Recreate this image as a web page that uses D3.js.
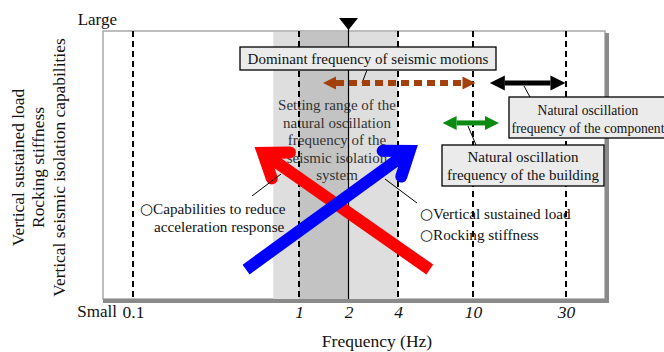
<!DOCTYPE html>
<html>
<head>
<meta charset="utf-8">
<script src="https://cdn.jsdelivr.net/npm/d3@7"></script>
<style>
  body { margin: 0; background: #fff; }
  svg { display: block; }
  text { font-family: "Liberation Serif", "DejaVu Serif", serif; fill: #111; }
</style>
</head>
<body>
<svg width="664" height="352"></svg>
<script>
// frequency ticks (Hz) and their labels
var tickValues = [0.1, 1, 2, 4, 10, 30];
var tickLabels = ["0.1", "1", "2", "4", "10", "30"];
var dashedAt = [0.1, 1, 4, 10, 30];
var solidAt = 2;

// shaded ranges (Hz)
var lightBand = [0.7, 4];
var darkBand = [1, 2];

// double arrows: [from Hz, to Hz, level 0..1]
var dominantRange = [1.4, 10.3, 0.806];
var componentRange = [12.2, 29.8, 0.806];
var buildingRange = [6.9, 13.6, 0.657];

// trend arrows: [Hz, level] tail then head
var redArrow = [[5.9, 0.11], [0.54, 0.567]];
var blueArrow = [[0.48, 0.11], [5.1, 0.575]];

var yAxisLines = ["Vertical sustained load", "Rocking stiffness", "Vertical seismic isolation capabilities"];
var settingText = ["Setting range of the", "natural oscillation", "frequency of the", "seismic isolation", "system"];

var svg = d3.select("svg");
var serif = "'Liberation Serif', 'DejaVu Serif', serif";
var plotLeft = 103, plotTop = 31, plotRight = 605, plotBottom = 299;

var x = d3.scaleLog()
    .domain([0.1, 1, 4, 10, 30])
    .range([133, 299, 398, 473, 566]);
var y = d3.scaleLinear().domain([0, 1]).range([plotBottom, plotTop]);

// frame
svg.append("rect")
    .attr("x", plotLeft).attr("y", plotTop)
    .attr("width", plotRight - plotLeft).attr("height", plotBottom - plotTop)
    .style("fill", "#fff").style("stroke", "#a8a8a8").style("stroke-width", 1.5);

// bands
svg.append("rect")
    .attr("x", x(lightBand[0])).attr("y", plotTop + 1)
    .attr("width", x(lightBand[1]) - x(lightBand[0])).attr("height", plotBottom - plotTop - 1)
    .style("fill", "#dedede");
svg.append("rect")
    .attr("x", x(darkBand[0])).attr("y", plotTop + 1)
    .attr("width", x(darkBand[1]) - x(darkBand[0])).attr("height", plotBottom - plotTop - 1)
    .style("fill", "#c3c3c3");

// shadow on right and bottom
svg.append("path")
    .attr("d", "M" + (plotRight + 2) + "," + (plotTop + 2) + "V" + (plotBottom + 2) + "H" + plotLeft)
    .style("fill", "none").style("stroke", "#8a8a8a").style("stroke-width", 4);

// setting range text
svg.append("text")
    .attr("text-anchor", "middle")
    .style("font-family", serif)
    .style("font-size", "15px").style("fill", "#333")
    .selectAll("tspan")
    .data(settingText)
    .enter().append("tspan")
    .attr("x", 337)
    .attr("y", function(d, i) { return 110 + i * 17.5; })
    .text(function(d) { return d; });

// vertical guide lines
svg.append("g").selectAll("line")
    .data(dashedAt)
    .enter().append("line")
    .attr("x1", function(d) { return x(d); })
    .attr("x2", function(d) { return x(d); })
    .attr("y1", plotTop).attr("y2", plotBottom)
    .style("stroke", "#000").style("stroke-width", 2)
    .style("stroke-dasharray", "6,4");

svg.append("line")
    .attr("x1", x(solidAt)).attr("x2", x(solidAt))
    .attr("y1", 20).attr("y2", plotBottom)
    .style("stroke", "#000").style("stroke-width", 1.2);

svg.append("path")
    .attr("d", "M" + (x(solidAt) - 9.5) + ",18L" + (x(solidAt) + 9.5) + ",18L" + x(solidAt) + ",30Z")
    .style("fill", "#000");

// x axis labels
var xAxis = d3.axisBottom(x)
    .tickValues(tickValues)
    .tickSize(0)
    .tickFormat(function(d, i) { return tickLabels[i]; });
var gx = svg.append("g")
    .attr("transform", "translate(0," + (plotBottom + 4) + ")")
    .call(xAxis);
gx.select(".domain").remove();
gx.selectAll("text")
    .style("font-family", serif)
    .style("font-size", "17.5px")
    .style("fill", "#111")
    .style("font-style", function(d) { return d === 0.1 ? "normal" : "italic"; });

function label(px, py, anchor, size, s) {
    return svg.append("text").attr("x", px).attr("y", py).attr("text-anchor", anchor)
        .style("font-family", serif).style("font-size", size).text(s);
}

label(117, 317, "end", "17px", "Small");
label(117, 25, "end", "17px", "Large");
label(377, 347, "middle", "17.5px", "Frequency (Hz)");

var yBase = [23.5, 44, 64.5];
svg.append("g").selectAll("text")
    .data(yAxisLines)
    .enter().append("text")
    .attr("text-anchor", "middle")
    .attr("transform", function(d, i) { return "translate(" + yBase[i] + ",167.5) rotate(-90)"; })
    .style("font-family", serif)
    .style("font-size", "17.4px")
    .text(function(d) { return d; });

// double arrow helper
function doubleArrow(r, color, width, head, dash) {
    var x1 = x(r[0]), x2 = x(r[1]), yy = y(r[2]);
    var g = svg.append("g");
    g.append("line")
        .attr("x1", x1 + head).attr("x2", x2 - head)
        .attr("y1", yy).attr("y2", yy)
        .style("stroke", color).style("stroke-width", width)
        .style("stroke-dasharray", dash || null);
    g.append("path")
        .attr("d", "M" + x1 + "," + yy + "L" + (x1 + head) + "," + (yy - head / 2) + "L" + (x1 + head) + "," + (yy + head / 2) + "Z")
        .style("fill", color);
    g.append("path")
        .attr("d", "M" + x2 + "," + yy + "L" + (x2 - head) + "," + (yy - head / 2) + "L" + (x2 - head) + "," + (yy + head / 2) + "Z")
        .style("fill", color);
}

// boxes
function box(x0, y0, w, h, lines, cx, baselines, size) {
    svg.append("rect")
        .attr("x", x0).attr("y", y0).attr("width", w).attr("height", h)
        .style("fill", "#ebebeb").style("stroke", "#000").style("stroke-width", 1.3);
    svg.append("text")
        .attr("text-anchor", "middle")
        .style("font-family", serif)
        .style("font-size", size)
        .selectAll("tspan")
        .data(lines)
        .enter().append("tspan")
        .attr("x", cx)
        .attr("y", function(d, i) { return baselines[i]; })
        .text(function(d) { return d; });
}

function leader(x1, y1, x2, y2) {
    svg.append("line")
        .attr("x1", x1).attr("y1", y1).attr("x2", x2).attr("y2", y2)
        .style("stroke", "#000").style("stroke-width", 1);
}

box(240, 47, 256, 23, ["Dominant frequency of seismic motions"], 368, [64], "15px");
leader(367, 70, 362, 83);
doubleArrow(dominantRange, "#a3400c", 6, 13, "8,5");

doubleArrow(componentRange, "#000", 5, 15);
leader(524, 86, 530, 97);
box(509, 97, 162, 41, ["Natural oscillation", "frequency of the component"], 588, [115, 133], "13.6px");

doubleArrow(buildingRange, "#0b8a12", 5, 14);
leader(468, 126, 476, 145);
box(442, 145, 162, 41, ["Natural oscillation", "frequency of the building"], 523, [162, 180], "15px");

// trend arrows (head point is the visible tip of the chevron)
function trendArrow(pts, color) {
    var w = 12;
    var x0 = x(pts[0][0]), y0 = y(pts[0][1]);
    var tx = x(pts[1][0]), ty = y(pts[1][1]);
    var ang = Math.atan2(y0 - ty, x0 - tx);
    var spread = 36 * Math.PI / 180, len = 27;
    var back = (w / 2) / Math.sin(spread);
    var vx = tx + back * Math.cos(ang), vy = ty + back * Math.sin(ang);
    var a1 = [vx + len * Math.cos(ang - spread), vy + len * Math.sin(ang - spread)];
    var a2 = [vx + len * Math.cos(ang + spread), vy + len * Math.sin(ang + spread)];
    var g = svg.append("g");
    g.append("line")
        .attr("x1", x0).attr("y1", y0).attr("x2", vx + 4 * Math.cos(ang)).attr("y2", vy + 4 * Math.sin(ang))
        .style("stroke", color).style("stroke-width", w);
    g.append("path")
        .attr("d", "M" + a1[0] + "," + a1[1] + "L" + vx + "," + vy + "L" + a2[0] + "," + a2[1])
        .style("fill", "none").style("stroke", color).style("stroke-width", w)
        .style("stroke-linecap", "round").style("stroke-linejoin", "miter")
        .style("stroke-miterlimit", 10);
}

trendArrow(redArrow, "#ff0000");
trendArrow(blueArrow, "#0000ff");

leader(281, 174, 252, 196);
leader(385, 179, 417, 203);

// notes
function note(px, py, s, bullet) {
    var t = svg.append("text").attr("x", px).attr("y", py)
        .style("font-family", serif).style("font-size", "15.2px");
    if (bullet) {
        t.append("tspan").style("font-family", "'DejaVu Sans', sans-serif").style("font-size", "15px").text("\u25CB");
    }
    t.append("tspan").text(s);
}
note(140, 214, "Capabilities to reduce", true);
note(154, 232, "acceleration response", false);
note(420, 219, "Vertical sustained load", true);
note(420, 240, "Rocking stiffness", true);
</script>
</body>
</html>
